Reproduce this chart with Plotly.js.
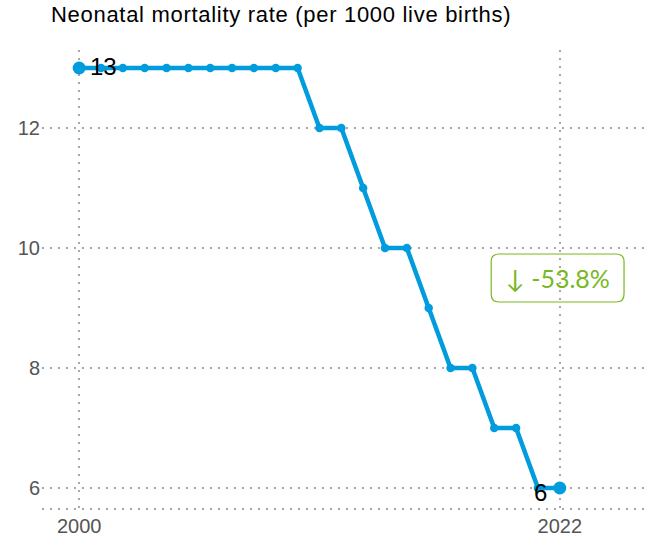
<!DOCTYPE html>
<html><head><meta charset="utf-8">
<script src="https://cdn.plot.ly/plotly-3.0.1.min.js"></script>
<style>html,body{margin:0;padding:0;background:#fff}#c{width:648px;height:542px}
#c .gtitle{letter-spacing:0.7px}</style>
</head><body><div id="c"></div>
<script>
const years = [2000,2001,2002,2003,2004,2005,2006,2007,2008,2009,2010,2011,2012,2013,2014,2015,2016,2017,2018,2019,2020,2021,2022];
const rate = [13,13,13,13,13,13,13,13,13,13,13,12,12,11,10,10,9,8,8,7,7,6,6];
const xTicks = [2000,2022];
const yTicks = [6,8,10,12];
const changeLabel = '↓ -53.8%';
const titleText = 'Neonatal mortality rate (per 1000 live births)';

const blue = '#009cde';
const green = '#78b81e';
const endX = [years[0], years[years.length-1]];
const endY = [rate[0], rate[rate.length-1]];

const traces = [
  {x: years, y: rate, type:'scatter', mode:'lines+markers',
   line:{color:blue, width:4.5}, marker:{color:blue, size:8.5}, hoverinfo:'skip', cliponaxis:false},
  {x: endX, y: endY, type:'scatter', mode:'markers',
   marker:{color:blue, size:13}, cliponaxis:false, hoverinfo:'skip'}
];

// rounded box for the change label (in data units)
const bx0=2018.86, bx1=2024.94, by0=9.1, by1=9.9, rx=0.37, ry=0.13;
const boxPath = `M ${bx0+rx},${by1} L ${bx1-rx},${by1} Q ${bx1},${by1} ${bx1},${by1-ry} L ${bx1},${by0+ry} Q ${bx1},${by0} ${bx1-rx},${by0} L ${bx0+rx},${by0} Q ${bx0},${by0} ${bx0},${by0+ry} L ${bx0},${by1-ry} Q ${bx0},${by1} ${bx0+rx},${by1} Z`;

const gridDash = '2px,6px';
const endFont = {family:'Liberation Sans, Arial', size:24, color:'#000'};
const layout = {
  width:648, height:542,
  margin:{l:42, r:3, t:50, b:33},
  paper_bgcolor:'#fff', plot_bgcolor:'#fff',
  showlegend:false,
  font:{family:'Liberation Sans, Arial, sans-serif', color:'#555'},
  title:{text:titleText, x:51/648, xanchor:'left', xref:'container', y:1-7/542, yanchor:'top', yref:'container',
         font:{family:'Liberation Sans, Arial', size:22, color:'#000'}},
  xaxis:{range:[1998.3, 2025.9], tickvals:xTicks, ticktext:xTicks.map(String),
         showgrid:true, gridcolor:'#a8a8a8', griddash:gridDash, gridwidth:2, zeroline:false, showline:false,
         tickfont:{size:20, color:'#555'}, ticks:'', ticklabelstandoff:3},
  yaxis:{range:[5.65, 13.3], tickvals:yTicks, ticktext:yTicks.map(String),
         showgrid:true, gridcolor:'#a8a8a8', griddash:gridDash, gridwidth:2, zeroline:false, showline:false,
         tickfont:{size:20, color:'#555'}, ticks:'', ticklabelstandoff:1},
  shapes:[
    {type:'line', xref:'paper', yref:'paper', x0:0, x1:1, y0:0, y1:0, line:{color:'#a8a8a8', width:2, dash:gridDash}},
    {type:'path', xref:'x', yref:'y', path:boxPath, line:{color:green, width:1.2}, fillcolor:'rgba(0,0,0,0)'}
  ],
  annotations:[
    {x:(bx0+bx1)/2, y:(by0+by1)/2, xref:'x', yref:'y', text:changeLabel, showarrow:false,
     font:{family:'Lato, Open Sans, sans-serif', size:25, color:green}},
    {x:endX[0], y:endY[0], xref:'x', yref:'y', text:String(endY[0]), showarrow:false,
     xanchor:'left', xshift:9, yshift:2, font:endFont},
    {x:endX[1], y:endY[1], xref:'x', yref:'y', text:String(endY[1]), showarrow:false,
     xanchor:'right', xshift:-11, yshift:-4, font:endFont}
  ]
};
Plotly.newPlot('c', traces, layout, {displayModeBar:false, staticPlot:true});
</script></body></html>
